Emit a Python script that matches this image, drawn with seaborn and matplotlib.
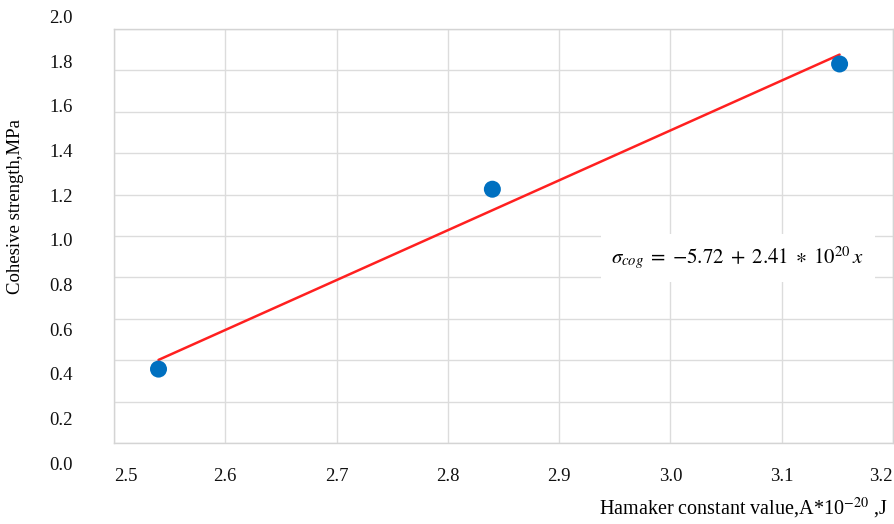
import matplotlib
matplotlib.use('Agg')
import matplotlib.pyplot as plt
import seaborn as sns
import pandas as pd

# ---- data ----
hamaker = [2.540, 2.840, 3.152]
strength = [0.357, 1.226, 1.831]
fit_intercept = -5.72
fit_slope = 2.41
x_ticks = [2.5, 2.6, 2.7, 2.8, 2.9, 3.0, 3.1, 3.2]
x_tick_labels = ['2.5', '2.6', '2.7', '2.8', '2.9', '3.0', '3.1', '3.2']
y_ticks = [0.0, 0.2, 0.4, 0.6, 0.8, 1.0, 1.2, 1.4, 1.6, 1.8, 2.0]
y_tick_labels = ['0.0', '0.2', '0.4', '0.6', '0.8', '1.0', '1.2', '1.4', '1.6', '1.8', '2.0']
x_label = r'Hamaker constant value,A*10$^{\mathrm{-20}}$ ,J'
y_label = 'Cohesive strength,MPa'
equation = r'$\sigma_{cog}\;=\;{-5.72}\;+\;2.41\;\ast\;10^{20}\,x$'

sns.set_theme(style='whitegrid')
plt.rcParams['font.family'] = ['Liberation Serif', 'DejaVu Serif']
plt.rcParams['mathtext.fontset'] = 'stix'

W, H = 894, 524
fig = plt.figure(figsize=(W / 100, H / 100), dpi=100)
fig.patch.set_facecolor('white')
ax = fig.add_axes([114 / W, (H - 443) / H, 779 / W, 414 / H])

df = pd.DataFrame({'x': hamaker, 'y': strength})
fit_x = [min(hamaker), max(hamaker)]
fit = pd.DataFrame({'x': fit_x, 'y': [fit_intercept + fit_slope * v for v in fit_x]})

sns.lineplot(data=fit, x='x', y='y', color='#FF2020', linewidth=1.8, ax=ax, zorder=3)
sns.scatterplot(data=df, x='x', y='y', s=150, color='#0070C0', edgecolor='none',
                ax=ax, zorder=4)

ax.set_xlim(2.5, 3.2)
ax.set_ylim(0, 2.0)
ax.set_xticks(x_ticks)
ax.set_xticklabels(x_tick_labels)
ax.set_yticks(y_ticks)
ax.set_yticklabels([])
ax.grid(True, color='#dcdcdc', linewidth=1)
for s in ax.spines.values():
    s.set_color('#d4d4d4')
    s.set_linewidth(1)
ax.tick_params(axis='x', length=0, pad=18, labelsize=13.5, colors='#111111')
ax.tick_params(axis='y', length=0)
xl = ax.get_xticklabels()
xl[0].set_ha('left')
xl[-1].set_ha('right')

ax.set_xlabel(x_label, fontsize=14.5, ha='right', va='center', color='#000000')
ax.xaxis.set_label_coords(0.993, -0.157)
ax.set_ylabel(y_label, fontsize=13.5, va='center', color='#000000')
ax.yaxis.set_label_coords(-0.127, 0.572)

ax.text(0.801, 0.447, equation, transform=ax.transAxes, ha='center', va='center',
        fontsize=15, color='#000000', zorder=5,
        bbox=dict(facecolor='white', edgecolor='none', boxstyle='square,pad=0.5'))

# tick-label column for the y axis (offset as in the reference)
ay = fig.add_axes([77 / W, (H - 463) / H, 0.001, (463 - 16.7) / H])
ay.set_ylim(0, 2.0)
ay.set_yticks(y_ticks)
ay.set_yticklabels(y_tick_labels)
ay.set_xticks([])
ay.grid(False)
ay.patch.set_visible(False)
for s in ay.spines.values():
    s.set_visible(False)
ay.tick_params(axis='y', length=0, pad=3, labelsize=13.5, colors='#111111')

fig.savefig('out.png', dpi=100, facecolor='white')
